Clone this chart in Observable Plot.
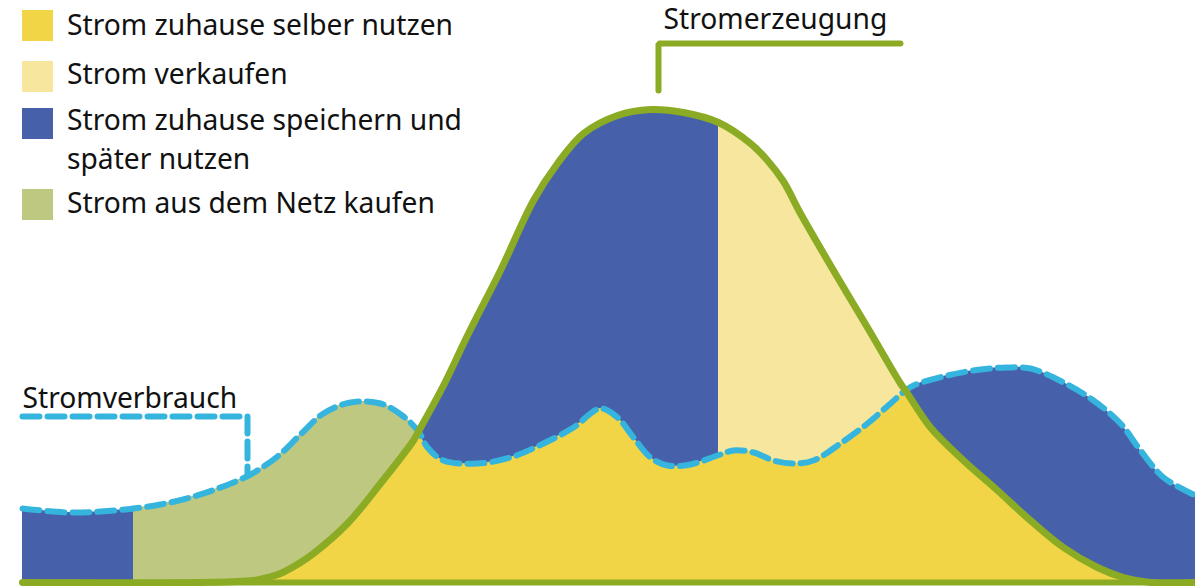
<!DOCTYPE html>
<html><head><meta charset="utf-8">
<script src="https://cdn.jsdelivr.net/npm/d3@7"></script>
<script src="https://cdn.jsdelivr.net/npm/@observablehq/plot@0.6"></script>
<style>
body{margin:0;background:#fff;}
#wrap{position:relative;width:1195px;height:586px;overflow:hidden;}
#wrap svg{display:block;}
.sw{position:absolute;left:22px;width:31px;height:31px;}
.lab{position:absolute;left:67px;font-family:"Noto Sans",sans-serif;font-size:28.2px;line-height:32px;color:#111;white-space:nowrap;}
</style></head><body><div id="wrap"></div>
<script>
// Stromerzeugung (generation) – x position along the day, value
const tGen  = [0, 178, 231, 245, 258, 278, 291, 325, 358, 391, 396, 421, 445, 478, 511, 535, 561, 595, 628, 661, 696, 728, 745, 761, 778, 811, 845, 878, 883, 908, 941, 975, 1008, 1041, 1075, 1101, 1128, 1173];
const genKW = [0,   0,   2,   5,   9,  20,  29,  59,  99, 142, 151, 197, 247, 312, 382, 419, 449, 467, 473, 470, 460, 439, 422, 401, 369, 312, 255, 199, 192, 155, 122,  92,   62,   35,   15,    5,    0,    0];
// Stromverbrauch (consumption)
const tUse  = [0, 45, 78, 111, 138, 168, 198, 228, 255, 278, 301, 328, 358, 381, 396, 405, 421, 455, 488, 521, 551, 578, 595, 611, 628, 645, 668, 695, 711, 731, 751, 771, 791, 818, 845, 868, 883, 891, 925, 958, 985, 1008, 1041, 1071, 1098, 1118, 1141, 1173];
const useKW = [74, 70, 71, 74, 78, 85, 95, 108, 126, 148, 169, 180, 179, 166, 151, 135, 122, 119, 125, 139, 155, 174, 165, 145, 125, 117, 118, 127, 132, 130, 122, 119, 122, 139, 159, 179, 192, 197, 207, 213, 215, 214, 200, 182, 159, 132, 105, 87];

// segment borders
const gridBuyStart = 111;   // battery empty -> buy from grid
const crossMorning = 396;   // generation exceeds consumption
const sellStart    = 696;   // battery full -> sell
const crossEvening = 883;   // consumption exceeds generation

const legendLabels = [["Strom zuhause selber nutzen"], ["Strom verkaufen"], ["Strom zuhause speichern und", "später nutzen"], ["Strom aus dem Netz kaufen"]];
const legendColors = ["#f2d547", "#f7e69d", "#4661a9", "#bfc880"];

const annoUseLine = [{x: 0, y: 166}, {x: 225, y: 166}, {x: 225, y: 107}];
const annoGenLine = [{x: 878, y: 539}, {x: 636, y: 539}, {x: 636, y: 492}];
const annoText = [{x: 0, y: 175, text: "Stromverbrauch"}, {x: 641, y: 554, text: "Stromerzeugung"}];

const FONT = '"Noto Sans", sans-serif';
const FS = 28.2;
const gen = tGen.map((x, i) => ({x, y: genKW[i]}));
const use = tUse.map((x, i) => ({x, y: useKW[i]}));
const C = "catmull-rom";
const BLUE = "#4661a9", YEL = "#f2d547", LYEL = "#f7e69d", GRN = "#bfc880", LGRN = "#8bab25", DASH = "#35b5dd";

const chart = Plot.plot({
  width: 1195, height: 586,
  marginLeft: 22, marginRight: 0, marginTop: 0, marginBottom: 4,
  x: {domain: [0, 1173], axis: null},
  y: {domain: [0, 582], axis: null},
  style: {fontFamily: FONT, background: "white"},
  marks: [
    Plot.areaY(use, {x: "x", y: "y", fill: BLUE, curve: C}),
    Plot.areaY(gen, {x: "x", y: "y", fill: BLUE, curve: C}),
    Plot.areaY(use.filter(d => d.x >= gridBuyStart && d.x <= crossMorning), {x: "x", y: "y", fill: GRN, curve: C}),
    Plot.areaY(gen.filter(d => d.x >= sellStart && d.x <= crossEvening), {x: "x", y: "y", fill: LYEL, curve: C}),
    Plot.areaY(gen.filter(d => d.x <= crossMorning), {x: "x", y: "y", fill: YEL, curve: C}),
    Plot.areaY(use.filter(d => d.x >= crossMorning && d.x <= crossEvening), {x: "x", y: "y", fill: YEL, curve: C}),
    Plot.areaY(gen.filter(d => d.x >= crossEvening), {x: "x", y: "y", fill: YEL, curve: C}),
    Plot.ruleY([0], {stroke: LGRN, strokeWidth: 6}),
    Plot.line(use, {x: "x", y: "y", stroke: DASH, strokeWidth: 6, strokeDasharray: "17,8", curve: C}),
    Plot.line(gen, {x: "x", y: "y", stroke: LGRN, strokeWidth: 7, curve: C}),
    Plot.line(annoUseLine, {x: "x", y: "y", stroke: DASH, strokeWidth: 6, strokeDasharray: "17,8", strokeLinejoin: "miter"}),
    Plot.line(annoGenLine, {x: "x", y: "y", stroke: LGRN, strokeWidth: 6, strokeLinejoin: "miter"}),
    Plot.text(annoText, {x: "x", y: "y", text: "text", textAnchor: "start", lineAnchor: "bottom", fontSize: FS, fill: "#111"})
  ]
});

const wrap = document.getElementById("wrap");
wrap.appendChild(chart);

// legend overlay (HTML); baseline = top + 16 + 0.388*FS for Noto Sans with 32px line-height
const baseOffset = 16 + 0.388 * FS;
const rowBase = [35, 84, 130, 213];   // first-line baselines
const swatchTop = [10, 61, 108, 189];
const wrapGap = 39;                   // distance between wrapped lines
legendLabels.forEach((lines, i) => {
  d3.select(wrap).append("div").attr("class", "sw")
    .style("top", swatchTop[i] + "px").style("background", legendColors[i]);
  lines.forEach((ln, j) => {
    d3.select(wrap).append("div").attr("class", "lab")
      .style("top", (rowBase[i] + j * wrapGap - baseOffset) + "px").text(ln);
  });
});
</script></body></html>
